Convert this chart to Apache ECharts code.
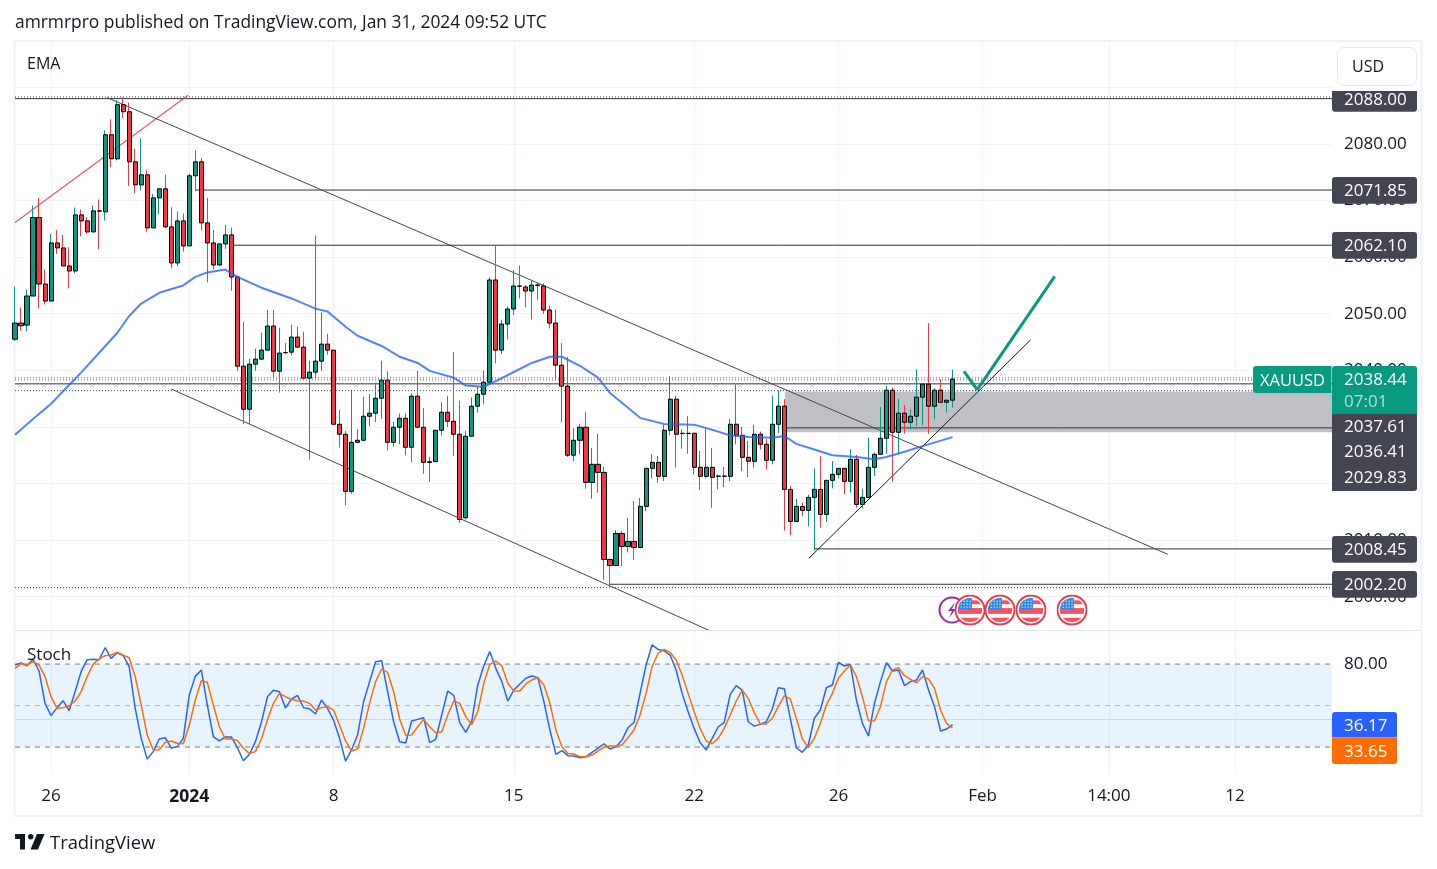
<!DOCTYPE html>
<html>
<head>
<meta charset="utf-8">
<title>XAUUSD</title>
<style>
  html, body { margin: 0; padding: 0; background: #fff; }
  #chart { width: 1437px; height: 869px; }
</style>
<script src="https://cdn.jsdelivr.net/npm/echarts@6/dist/echarts.min.js"></script>
</head>
<body>
<div id="chart"></div>
<script>
// 4h candles
const opens = [
  2045.5,2048.35,2047.99,2053.13,2066.99,2055.25,2052.24,2062.51,2061.62,2058.44,
  2057.55,2067.46,2066.4,2064.45,2068.17,2068,2081.62,2077.37,2086.93,2085.69,
  2076.84,2072.77,2074.54,2065.16,2070.47,2072.07,2065.34,2058.97,2066.4,2061.98,
  2074.37,2076.84,2066.05,2062.51,2058.61,2062.33,2063.92,2056.49,2040.74,2033.12,
  2041.09,2041.97,2043.57,2047.82,2039.85,2043.1,2043.21,2045.87,2044.1,2038.61,
  2039.67,2041.62,2044.63,2043.57,2030.47,2028.7,2018.61,2027.28,2027.64,2031.89,
  2032.42,2035.07,2038.26,2027.28,2029.94,2031.53,2026.4,2035.43,2029.94,2023.74,
  2023.86,2029.41,2032.59,2031,2028.7,2013.95,2028.35,2033.66,2035.78,2037.9,
  2055.96,2043.57,2048.17,2050.83,2054.9,2054.72,2054.01,2055.07,2054.9,2050.65,
  2048.35,2040.91,2037.2,2025,2027.64,2029.94,2020.2,2023.39,2021.97,2006.58,
  2005.51,2011.18,2008.88,2009.76,2008.7,2015.96,2022.68,2023.74,2021.27,2029.41,
  2034.9,2028.82,2028.88,2028.88,2022.86,2021.27,2022.86,2021.27,2021.27,2021.27,
  2030.47,2028.52,2024.63,2023.92,2028.7,2026.93,2024.1,2030.47,2033.66,2018.96,
  2013.3,2015.96,2015.25,2017.55,2018.96,2014.54,2020.56,2021.62,2022.68,2020.38,
  2024.28,2016.31,2017.55,2022.86,2025.16,2027.99,2036.49,2029.05,2032.42,2030.82,
  2031.89,2035.25,2037.55,2033.66,2036.49,2034.36,2034.72
];
const closes = [
  2048.35,2047.87,2053.13,2066.99,2055.25,2052.24,2062.51,2061.62,2058.44,2057.55,
  2067.46,2066.4,2064.45,2068.17,2068.12,2081.62,2077.37,2086.93,2085.69,2076.84,
  2072.77,2074.54,2065.16,2070.47,2072.07,2065.34,2058.97,2066.4,2061.98,2074.37,
  2076.84,2066.05,2062.51,2058.61,2062.33,2063.92,2056.49,2040.73,2033.12,2041.09,
  2041.97,2043.57,2047.82,2039.85,2043.04,2043.15,2045.87,2044.1,2038.61,2039.67,
  2041.62,2044.63,2043.57,2030.47,2028.7,2018.61,2027.28,2027.64,2031.89,2032.42,
  2035.07,2038.26,2027.28,2029.94,2031.53,2026.4,2035.43,2029.94,2023.74,2023.86,
  2029.41,2032.59,2031,2028.7,2013.65,2028.35,2033.66,2035.78,2037.9,2055.96,
  2043.57,2048.17,2050.83,2054.9,2054.85,2054.01,2055.07,2055.02,2050.65,2048.35,
  2040.91,2037.2,2025,2027.64,2029.94,2020.2,2023.39,2021.97,2006.58,2005.51,
  2011.18,2008.88,2009.76,2008.7,2015.96,2022.68,2023.74,2021.27,2029.41,2034.9,
  2028.7,2028.88,2028.82,2022.86,2021.27,2022.86,2021.09,2021.31,2021.31,2030.47,
  2028.52,2024.63,2023.92,2028.7,2026.93,2024.1,2030.47,2033.66,2018.96,2013.3,
  2015.96,2015.25,2017.55,2018.96,2014.54,2020.56,2021.62,2022.68,2020.38,2024.28,
  2016.31,2017.55,2022.86,2025.16,2027.99,2036.49,2029.05,2032.42,2030.82,2031.89,
  2035.25,2037.55,2033.66,2036.49,2034.36,2034.72,2038.44
];
const lows = [
  2045.2,2046.99,2046.87,2053.13,2050.94,2051.65,2052.24,2060.56,2058.44,2054.48,
  2057.14,2063.69,2064.1,2064.45,2061.39,2066.46,2075.9,2077.08,2084.57,2072.54,
  2071.3,2071.77,2064.4,2065.16,2067.52,2065.16,2058.02,2058.38,2060.97,2061.98,
  2071.65,2064.69,2055.55,2057.79,2058.44,2061.45,2054.07,2039.91,2030.47,2030.47,
  2039.91,2041.97,2043.57,2038.61,2036.07,2042.86,2042.62,2044.1,2038.61,2024.22,
  2038.61,2039.91,2042.74,2030.47,2026.34,2016.19,2018.2,2027.28,2027.64,2030.12,
  2030.82,2031.41,2025.81,2026.46,2026.93,2024.98,2023.69,2029.94,2021.74,2020.32,
  2023.86,2028.46,2029.94,2024.87,2013.06,2013.65,2028.35,2032.53,2034.01,2037.9,
  2041.21,2042.86,2045.46,2049.76,2052.71,2051.12,2048.98,2052.48,2049.94,2047.4,
  2038.43,2030.88,2024.69,2023.98,2025.16,2019.08,2017.31,2018.37,2002.92,2001.56,
  2005.51,2005.45,2007.93,2006.52,2008.7,2015.13,2020.91,2020.14,2020.44,2028.52,
  2022.8,2026.16,2025.28,2021.62,2018.91,2020.91,2015.72,2018.97,2019.38,2020.44,
  2026.93,2022.21,2021.15,2022.8,2026.04,2022.45,2023.39,2028.94,2011.71,2010.88,
  2013.3,2014.24,2012.42,2008.17,2012.18,2013.24,2019.14,2020.91,2018.08,2018.37,
  2015.72,2015.6,2017.55,2021.33,2025.16,2025.28,2020.32,2025.16,2028.82,2029.58,
  2030.17,2030.29,2028.82,2031.36,2034.36,2032.53,2033.42
];
const highs = [
  2054.8,2051.12,2054.25,2069.12,2070.47,2057.79,2064.1,2064.81,2063.92,2061.74,
  2068.76,2068.41,2067.05,2069.12,2070.18,2082.39,2084.34,2087.7,2088.29,2087.29,
  2079.15,2080.97,2075.31,2071.18,2072.07,2074.6,2068.82,2068.05,2067.7,2074.72,
  2078.85,2077.55,2070.47,2064.81,2062.33,2065.69,2065.22,2056.72,2048.58,2042.09,
  2043.8,2046.64,2050.7,2050.7,2047.52,2044.81,2048.05,2047.7,2046.81,2041.68,
  2063.8,2050.18,2046.46,2043.57,2033.01,2029.29,2036.55,2029.6,2035.31,2035.78,
  2037.79,2041.68,2039.85,2030.88,2032.36,2032.42,2035.96,2039.91,2033.36,2024.69,
  2029.41,2034.36,2035.48,2043.21,2034.6,2029.29,2035.19,2037.14,2039.91,2056.43,
  2061.98,2048.94,2051.3,2057.73,2058.5,2055.07,2055.96,2055.6,2055.37,2051.42,
  2050.71,2044.81,2042.33,2029.82,2030.53,2032.65,2026.28,2028.76,2022.98,2006.75,
  2011.77,2011.59,2013.89,2016.9,2017.43,2022.68,2025.16,2024.87,2030.35,2038.97,
  2035.49,2029.59,2031.95,2028.88,2025.75,2029.76,2026.28,2021.62,2022.92,2031.41,
  2037.55,2030,2027.52,2030.35,2029.17,2027.87,2035.54,2036.43,2034.9,2019.55,
  2017.26,2016.66,2018.02,2022.68,2024.87,2020.56,2023.98,2022.68,2022.68,2026.05,
  2025.04,2019.08,2028.11,2025.46,2033.54,2037.26,2036.96,2034.95,2033.89,2033.13,
  2040.2,2037.55,2048.35,2036.84,2038.38,2034.72,2040.09
];

// EMA, sampled at the bars where it could be read
const emaBars = [0,3,6,9,11,14,17,19,21,24,28,30,32,35,37,41,46,50,52,55,57,61,64,67,69,73,75,78,80,83,86,89,91,94,97,99,102,104,108,113,116,119,122,126,128,130,133,136,140,143,145,148,151,156];
const emaValues = [2028.6,2031.4,2034.1,2037.4,2039.6,2043.1,2046.6,2049.6,2051.8,2053.7,2055,2056.5,2057.3,2057.8,2056.5,2054.6,2052.7,2050.9,2050.4,2047.7,2046.1,2044.3,2042.4,2041.3,2039.9,2038.7,2037.3,2037.1,2038.1,2039.7,2041.3,2042.4,2042.4,2040.8,2038.7,2036,2033.4,2031.6,2030.5,2030.4,2029.5,2028.5,2028.2,2028.1,2028.4,2027,2026,2025,2024.7,2024.3,2024.7,2025.6,2026.6,2028.2];

// Stoch %K / %D
const stochK = [
  79.3,80.8,78.8,83.4,75,51.6,42.7,48.5,53.5,46.3,60,74.5,83.2,83.4,83.2,91.8,84.1,88.2,86.1,78.1,
  48,26.3,11.3,16.7,25.8,26.8,19.3,20.3,26.3,57.6,71.1,75.7,50.4,27.5,24.4,27.3,27.3,19.5,10.1,14.7,
  23.9,37.9,56.4,61,60,48.2,54.7,57.4,48.5,47.7,43.9,54,48,39.5,26.3,9.9,17.9,28.7,52.8,67.3,
  81.7,82.4,60,38.3,23.9,22.9,38.8,40,41.2,23.2,25.6,43.2,60.5,57.4,37.6,30.6,38.8,64.9,78.8,89,
  76.9,67.3,53.3,61.2,65.6,69.7,71.4,70.2,52.8,32.3,14.7,17.4,13.8,13.5,12.3,13,16.2,19.1,22.4,18.6,
  20.3,25.1,34,37.9,58.8,79.3,93.8,90.6,89.7,86.5,75.7,58.8,45.6,33.5,23.2,17.9,26.3,34.5,37.9,58.1,
  64.4,61.2,38.3,35.2,36.4,38.3,47.5,62.9,62.2,40.8,19.5,16.2,21.5,40.8,46.8,62.9,64.9,81.2,78.6,79.8,
  54,37.1,28,51.6,67.3,81,75,75.7,64.4,67.3,68.5,75.7,61.2,49.2,31.6,33,36.17
];
const stochD = [
  76.9,80.3,79.3,81.7,79.3,70.9,56.4,48,48.5,49.7,53.3,60,70.9,80,83.6,86.1,86.5,88.5,86.5,84.6,
  70.9,50.4,28.7,17.9,18.1,23.4,24.4,22.7,22.4,35.9,54,68,66.8,50.4,34.7,25.8,25.8,24.8,19.1,15.4,
  16.7,25.8,39.5,51.6,58.8,56.4,54.5,53.5,53.3,51.6,46.8,48.5,49.2,46.8,35.9,24.4,17.1,18.6,33.5,51.6,
  67.3,76.4,74,60,40.3,28.5,28.7,34.7,40,34.7,30.4,30.9,43.2,53.3,51.6,42,36.4,45.6,66.1,79.8,
  82.2,78.8,66.1,60.5,60.5,65.6,68.5,70.2,64.9,51.6,32.3,20.3,15.4,15,13,13,14.2,17.1,19.8,20.8,
  20.8,21.5,26.8,32.3,43.2,58.8,78.1,87.7,90.6,88.5,82.9,72.1,58.8,45.6,33.5,24.4,22.4,26.3,33.5,43.2,
  53.3,61.2,55.2,45.1,36.7,36.7,40.8,49.2,57.1,54.7,40.8,25.8,19.8,26.3,37.1,50.4,58.8,69.7,75,79.3,
  70.9,56.4,39.1,38.8,49.2,67.3,75.7,77.4,71.6,69,66.5,70.9,69.2,62.4,46.8,37.1,33.65
];

// axis ticks
const priceTicks = [2000,2010,2020,2030,2040,2050,2060,2070,2080,2090];
const priceLabels = [2000,2010,2040,2050,2060,2070,2080];
const dateBars = [6,29,53,83,113,137,161,182,203];
const dateLabels = ['26','2024','8','15','22','26','Feb','14:00','12'];

// horizontal drawings: price, first bar
const solidLevels = [2088,2071.85,2062.1,2037.61,2029.83,2008.45,2002.2];
const solidFrom = [0,30,36,0,128,133,99];
const dottedLevels = [2088.3,2036.41,2001.6];
const ZONE_TOP = 2036.25;
const ZONE_BOTTOM = 2029.06;

// sloped drawings: [bar, price] pairs
const redTrend = [[0,2066.1],[28.8,2088.6]];
const channelTop = [[15.3,2088.2],[191.8,2007.5]];
const channelBottom = [[26,2036.7],[115.8,1993.9]];
const riseTrend = [[132.1,2006.8],[169,2045.4]];
const forecast = [[157.9,2039.8],[160.1,2036.6],[173,2056.6]];

const UP = '#089981';
const DOWN = '#f23645';
const DARK = '#434651';
const GRID = '#f0f3fa';
const TEXT = '#131722';
const FONT = '"Open Sans", "Noto Sans", sans-serif';
const LAST_X = 219.13; // right edge of the plot, in bars

const chart = echarts.init(document.getElementById('chart'));

const segment = (points, color, width, type, opacity) => ({
  type: 'line',
  xAxisIndex: 0,
  yAxisIndex: 0,
  data: points,
  symbol: 'none',
  silent: true,
  z: 3,
  lineStyle: { color, width: width || 1, type: type || 'solid', opacity: opacity == null ? 1 : opacity }
});

const oscLevel = (value, color) => ({
  type: 'line',
  xAxisIndex: 1,
  yAxisIndex: 1,
  data: [[0, value], [LAST_X, value]],
  symbol: 'none',
  silent: true,
  z: 2,
  lineStyle: { color, width: 1, type: [5, 5] }
});

const txt = (x, y, text, size, color) => ({
  type: 'text', z: 60, x, y,
  style: { text, fill: color || TEXT, font: size + 'px ' + FONT, textVerticalAlign: 'middle' }
});

const badge = (y, h, color, label, radius, textY) => [
  { type: 'rect', z: 50, shape: { x: 1332, y, width: 85, height: h, r: radius || 0 }, style: { fill: color } },
  txt(1344, textY || y + h / 2 + 1, label, 17, '#fff')
];

// star dots for the flag canton
let stars = '';
[7, 10, 13].forEach(y => [7, 10, 13, 16].forEach(x => { stars += '<circle cx="' + x + '" cy="' + y + '" r="0.7" fill="#fff"/>'; }));

const flagUri = 'data:image/svg+xml,' + encodeURIComponent(
  '<svg xmlns="http://www.w3.org/2000/svg" width="32" height="32" viewBox="0 0 32 32">' +
  '<defs><clipPath id="c"><circle cx="16" cy="16" r="12.5"/></clipPath></defs>' +
  '<circle cx="16" cy="16" r="15" fill="#fff" stroke="#f23645" stroke-width="2"/>' +
  '<g clip-path="url(#c)"><rect x="3" y="3" width="26" height="26" fill="#fff"/>' +
  '<rect x="3" y="6" width="26" height="4" fill="#f7525f"/><rect x="3" y="14" width="26" height="6" fill="#f7525f"/>' +
  '<rect x="3" y="24" width="26" height="5" fill="#f7525f"/><rect x="3" y="3" width="15" height="12" fill="#2e8ae6"/>' +
  stars + '</g></svg>'
);
const flag = cx => ({ type: 'image', z: 40, style: { image: flagUri, x: cx - 15.5, y: 594.5, width: 31, height: 31 } });

const option = {
  animation: false,
  backgroundColor: '#fff',
  grid: [
    { left: 15, width: 1317, top: 42.5, height: 588 },
    { left: 15, width: 1317, top: 631, height: 144 }
  ],
  xAxis: [
    {
      type: 'value', gridIndex: 0, min: 0, max: LAST_X,
      axisLine: { show: false },
      axisTick: { show: false, customValues: dateBars },
      axisLabel: { show: false, customValues: dateBars },
      splitLine: { show: true, lineStyle: { color: GRID, width: 1 } }
    },
    {
      type: 'value', gridIndex: 1, min: 0, max: LAST_X,
      axisLine: { show: false },
      axisTick: { show: false, customValues: dateBars },
      axisLabel: {
        customValues: dateBars,
        margin: 13,
        color: TEXT,
        fontFamily: FONT,
        fontSize: 17,
        hideOverlap: false,
        formatter: v => {
          const s = dateLabels[dateBars.indexOf(v)];
          return s === '2024' ? '{b|2024}' : s;
        },
        rich: { b: { fontWeight: 'bold', fontSize: 17.5, fontFamily: FONT, color: TEXT } }
      },
      splitLine: { show: true, lineStyle: { color: GRID, width: 1 } }
    }
  ],
  yAxis: [
    {
      type: 'value', gridIndex: 0, position: 'right', min: 1994.03, max: 2097.92,
      axisLine: { show: false },
      axisTick: { show: false, customValues: priceTicks },
      axisLabel: {
        customValues: priceLabels,
        margin: 12,
        color: TEXT,
        fontFamily: FONT,
        fontSize: 17,
        align: 'left',
        padding: [2, 0, 0, 0],
        formatter: v => v.toFixed(2)
      },
      splitLine: { show: true, lineStyle: { color: GRID, width: 1 } }
    },
    {
      type: 'value', gridIndex: 1, position: 'right', min: -0.2, max: 103.9,
      axisLine: { show: false },
      axisTick: { show: false, customValues: [40] },
      axisLabel: {
        customValues: [80],
        margin: 12,
        color: TEXT,
        fontFamily: FONT,
        fontSize: 17,
        align: 'left',
        padding: [4, 0, 0, 0],
        formatter: v => v.toFixed(2)
      },
      splitLine: { show: true, lineStyle: { color: '#d8e6f2', width: 1 } }
    }
  ],
  series: [
    // grey zone
    {
      type: 'line', xAxisIndex: 0, yAxisIndex: 0, data: [], silent: true, z: 1,
      markArea: {
        silent: true,
        itemStyle: { color: '#bfc0c5' },
        data: [[{ coord: [128.1, ZONE_TOP] }, { coord: [LAST_X, ZONE_BOTTOM] }]]
      }
    },
    ...solidLevels.map((p, i) => segment([[solidFrom[i], p], [LAST_X, p]], '#30333d')),
    ...dottedLevels.map(p => segment([[0, p], [LAST_X, p]], DARK, 1, [1, 2])),
    segment([[0, 2038.67], [LAST_X, 2038.67]], DOWN, 1, [1, 2]),
    segment([[0, 2038.3], [LAST_X, 2038.3]], '#2962ff', 1, [1, 2]),
    segment(redTrend, DOWN, 1.2, 'solid', 0.85),
    segment(channelTop, DARK),
    segment(channelBottom, DARK),
    segment(riseTrend, TEXT),
    // wicks keep the candle colour
    {
      type: 'candlestick', xAxisIndex: 0, yAxisIndex: 0, silent: true, z: 4,
      barWidth: 1,
      itemStyle: { color: UP, color0: DOWN, borderColor: UP, borderColor0: DOWN, borderColorDoji: UP, borderWidth: 1 },
      data: opens.map((o, i) => [i, o, closes[i], lows[i], highs[i]])
    },
    // bodies with a black outline
    {
      type: 'candlestick', xAxisIndex: 0, yAxisIndex: 0, silent: true, z: 5,
      barWidth: 4.6,
      itemStyle: { color: UP, color0: DOWN, borderColor: '#000', borderColor0: '#000', borderColorDoji: '#000', borderWidth: 1 },
      data: opens.map((o, i) => [i, o, closes[i], Math.min(o, closes[i]), Math.max(o, closes[i])])
    },
    {
      type: 'line', xAxisIndex: 0, yAxisIndex: 0, silent: true, z: 6, symbol: 'none',
      lineStyle: { color: '#2962ff', width: 2, opacity: 0.8 },
      data: emaBars.map((b, i) => [b, emaValues[i]])
    },
    Object.assign(segment(forecast, UP, 3), { z: 7 }),
    // stoch band
    {
      type: 'line', xAxisIndex: 1, yAxisIndex: 1, data: [], silent: true, z: 1,
      markArea: {
        silent: true,
        itemStyle: { color: 'rgba(33,150,243,0.11)' },
        data: [[{ coord: [0, 80] }, { coord: [LAST_X, 20] }]]
      }
    },
    oscLevel(80, '#787b86'),
    oscLevel(50, '#b2b5be'),
    oscLevel(20, '#787b86'),
    {
      type: 'line', xAxisIndex: 1, yAxisIndex: 1, silent: true, z: 4, symbol: 'none',
      lineStyle: { color: '#2962ff', width: 1.5 },
      data: stochK.map((v, i) => [i, v])
    },
    {
      type: 'line', xAxisIndex: 1, yAxisIndex: 1, silent: true, z: 5, symbol: 'none',
      lineStyle: { color: '#ff6d00', width: 1.5 },
      data: stochD.map((v, i) => [i, v])
    }
  ],
  graphic: [
    // frame
    { type: 'rect', z: 0, silent: true, shape: { x: 14.5, y: 41, width: 1407, height: 775 }, style: { fill: 'none', stroke: '#eff1f7', lineWidth: 2 } },
    { type: 'line', z: 30, silent: true, shape: { x1: 15, y1: 630.5, x2: 1421, y2: 630.5 }, style: { stroke: '#e0e3eb', lineWidth: 1 } },

    txt(15, 23, 'amrmrpro published on TradingView.com, Jan 31, 2024 09:52 UTC', 17.4),
    txt(27, 64, 'EMA', 16),
    txt(27, 655, 'Stoch', 17),
    txt(50, 844, 'TradingView', 18.4),

    // logo
    { type: 'polygon', z: 60, shape: { points: [[15, 834], [25, 834], [25, 849.5], [20, 849.5], [20, 839], [15, 839]] }, style: { fill: TEXT } },
    { type: 'circle', z: 60, shape: { cx: 30.7, cy: 836.7, r: 2.7 }, style: { fill: TEXT } },
    { type: 'polygon', z: 60, shape: { points: [[37, 834], [44.5, 834], [38, 849.5], [30.5, 849.5]] }, style: { fill: TEXT } },

    // currency button
    { type: 'rect', z: 55, shape: { x: 1337.5, y: 47.5, width: 79, height: 38, r: 7 }, style: { fill: '#fff', stroke: '#e6e8ef', lineWidth: 1 } },
    txt(1352, 67, 'USD', 16),

    // price badges
    ...badge(91, 20.7, DARK, '2088.00', [0, 0, 3, 3], 100),
    ...badge(177, 26.7, DARK, '2071.85', 3),
    ...badge(232, 26.7, DARK, '2062.10', 3),
    { type: 'rect', z: 50, shape: { x: 1332, y: 414, width: 85, height: 77, r: [0, 0, 3, 0] }, style: { fill: DARK } },
    txt(1344, 427.5, '2037.61', 17, '#fff'),
    txt(1344, 452, '2036.41', 17, '#fff'),
    txt(1344, 478, '2029.83', 17, '#fff'),
    ...badge(536, 26.7, DARK, '2008.45', 3),
    ...badge(571, 26.7, DARK, '2002.20', 3),
    { type: 'rect', z: 50, shape: { x: 1253, y: 366, width: 78.5, height: 27, r: [3, 0, 0, 3] }, style: { fill: UP } },
    txt(1260, 381, 'XAUUSD', 16.5, '#fff'),
    { type: 'rect', z: 52, shape: { x: 1332, y: 366, width: 85, height: 48, r: [3, 3, 0, 0] }, style: { fill: UP } },
    txt(1344, 380, '2038.44', 17, '#fff'),
    txt(1344, 402, '07:01', 17, 'rgba(255,255,255,0.7)'),

    // stoch badges
    { type: 'rect', z: 50, shape: { x: 1332, y: 712, width: 65, height: 25.5, r: [3, 3, 0, 0] }, style: { fill: '#2962ff' } },
    txt(1344, 726, '36.17', 17, '#fff'),
    { type: 'rect', z: 50, shape: { x: 1332, y: 737.5, width: 65, height: 26.5, r: [0, 0, 3, 3] }, style: { fill: '#ff6d00' } },
    txt(1344, 752, '33.65', 17, '#fff'),

    // events
    { type: 'circle', z: 39, shape: { cx: 952, cy: 610, r: 12.5 }, style: { fill: '#fff', stroke: '#9c27b0', lineWidth: 2 } },
    { type: 'polygon', z: 39, shape: { points: [[955, 602], [948, 611], [952, 611], [949, 618], [956, 609], [952, 609]] }, style: { fill: '#9c27b0' } },
    flag(970), flag(1000), flag(1031), flag(1072)
  ]
};

chart.setOption(option);
</script>
</body>
</html>
